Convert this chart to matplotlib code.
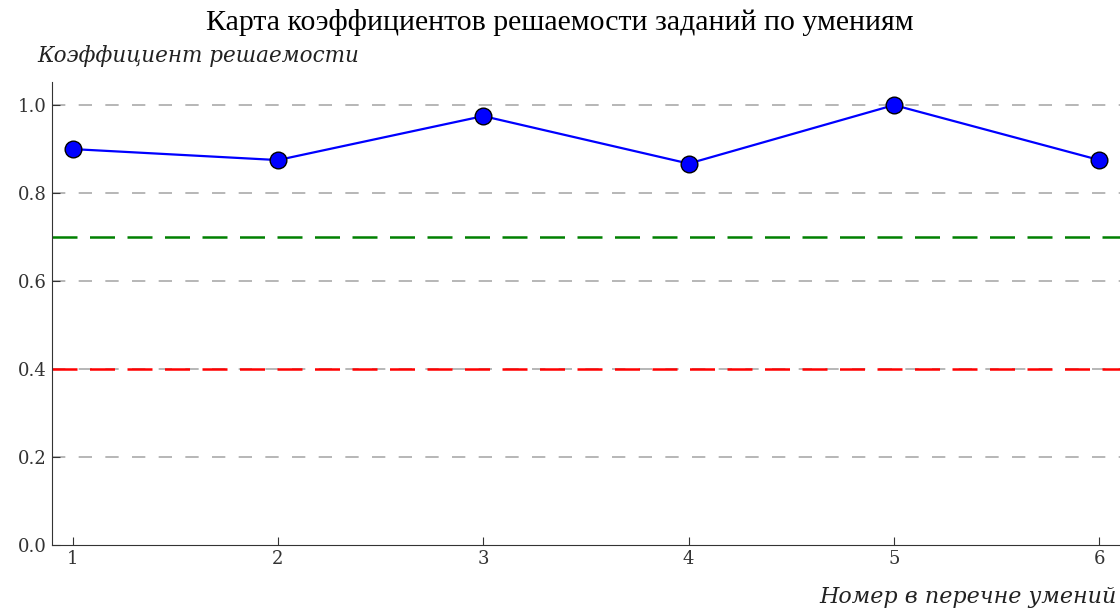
import matplotlib.pyplot as plt

# Номера умений и коэффициенты решаемости
skills = [1, 2, 3, 4, 5, 6]
coef = [0.9, 0.875, 0.975, 0.867, 1.0, 0.875]
upper_level = 0.7
lower_level = 0.4
y_ticks = [0.0, 0.2, 0.4, 0.6, 0.8, 1.0]

fig = plt.figure(figsize=(11.2, 6.08), dpi=100)
ax = fig.add_axes([0.0464, 0.1036, 0.9536, 0.7612])

for t in y_ticks[1:]:
    ax.axhline(t, color='#aaaaaa', lw=1.2, ls=(0, (8, 8)), zorder=1)
ax.axhline(upper_level, color='green', lw=1.8, ls=(0, (10, 5)), zorder=2)
ax.axhline(lower_level, color='red', lw=1.8, ls=(0, (10, 5)), zorder=2)

ax.plot(skills, coef, color='blue', lw=1.6, marker='o', ms=12,
        mfc='blue', mec='black', mew=1, zorder=3)

ax.set_xlim(0.9, 6.1)
ax.set_ylim(0, 1.052)
ax.set_xticks(skills)
ax.set_yticks(y_ticks)
ax.set_yticklabels([f'{t:.1f}' for t in y_ticks])
for s in ['top', 'right']:
    ax.spines[s].set_visible(False)
for s in ['left', 'bottom']:
    ax.spines[s].set_color('#333333')
ax.tick_params(direction='in', length=6, colors='#333333', labelsize=13,
               top=False, right=False)
for lab in ax.get_xticklabels() + ax.get_yticklabels():
    lab.set_family('DejaVu Serif')

fig.text(0.5, 0.963, 'Карта коэффициентов решаемости заданий по умениям',
         ha='center', va='center', fontsize=21.5, family='Liberation Serif')
fig.text(0.033, 0.908, 'Коэффициент решаемости', ha='left', va='center',
         fontsize=15.5, style='italic', family='DejaVu Serif', color='#222222')
fig.text(0.997, 0.018, 'Номер в перечне умений', ha='right', va='center',
         fontsize=16, style='italic', family='DejaVu Serif', color='#222222')

fig.savefig('out.png', dpi=100)
